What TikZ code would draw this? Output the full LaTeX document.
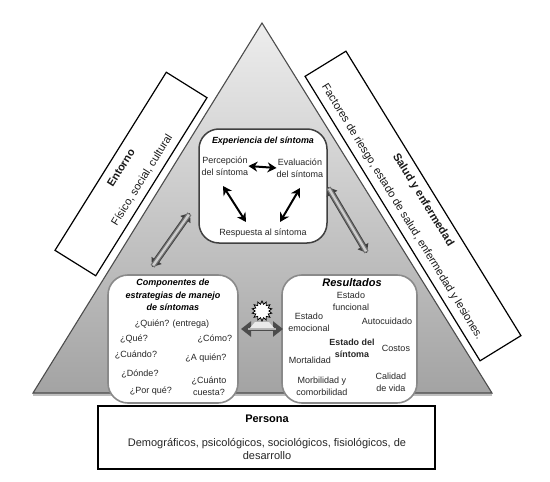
\documentclass[tikz,border=0pt]{standalone}
\usepackage{fontspec}
\setmainfont{Liberation Sans}
\usetikzlibrary{arrows.meta,shapes.geometric,shadows}
\definecolor{edgegray}{HTML}{8A8A8A}
\tikzset{
  x=1pt,y=-1pt,
  txt/.style={inner sep=0pt,align=center,text=black!85,font=\fontsize{9}{12}\selectfont},
  ttl/.style={inner sep=0pt,align=center,font=\fontsize{9}{12.3}\selectfont\bfseries\itshape},
  roundbox/.style={draw=edgegray,line width=1.6pt,fill=white,rounded corners=20pt,inner sep=0pt},
  sidebox/.style={draw=black,line width=1.2pt,fill=white,inner sep=0pt,minimum height=48pt},
  sidetxt/.style={inner sep=0pt,align=center,text=black!90},
  blackarrow/.style={draw=black,line width=2pt,{Stealth[length=9pt,width=10pt]}-{Stealth[length=9pt,width=10pt]}},
  tube/.style={draw=black!75,line width=6.6pt,{Triangle[length=8pt,width=12pt]}-{Triangle[length=8pt,width=12pt]},
    postaction={draw=black!55,line width=4.8pt,arrows=-,shorten <=1pt,shorten >=1pt},
    postaction={draw=black!20,line width=2.4pt,arrows=-,shorten <=2pt,shorten >=2pt}},
}
\begin{document}
\begin{tikzpicture}
\useasboundingbox (0,0) rectangle (550,482);
% triangle
\coordinate (apex) at (262,23);
\coordinate (bl) at (33,393);
\coordinate (br) at (492,393);
\fill[black!25] (33,396) -- (492,396) -- (492,393) -- (33,393) -- cycle;
\begin{scope}
\clip (apex) -- (br) -- (bl) -- cycle;
\shade[top color=black!7,bottom color=black!36] (33,23) rectangle (492,393);
\end{scope}
\draw[black!70,line width=1.1pt,line join=miter] (apex) -- (br) -- (bl) -- cycle;
% side boxes
\node[sidebox,rotate=58,minimum width=210pt] (entorno) at (131,174) {};
\node[sidetxt,rotate=58,font=\fontsize{11}{13}\selectfont\bfseries] (entornoT) at (121,168) {Entorno};
\node[sidetxt,rotate=58,font=\fontsize{11}{12}\selectfont] (entornoS) at (142,180) {Físico, social, cultural};
\node[sidebox,rotate=-58.4,minimum width=334pt] (salud) at (413,206) {};
\node[sidetxt,rotate=-58.4,font=\fontsize{11.2}{12}\selectfont\bfseries] (saludT) at (423,200) {Salud y enfermedad};
\node[sidetxt,rotate=-58.4,font=\fontsize{11.1}{12}\selectfont] (saludS) at (402,212) {Factores de riesgo, estado de salud, enfermedad y lesiones.};
% main boxes
\node[roundbox,draw=black!75,line width=1.5pt,minimum width=128pt,minimum height=114pt] (exp) at (263,186) {};
\node[roundbox,minimum width=130pt,minimum height=128pt] (comp) at (173,339) {};
\node[roundbox,minimum width=135pt,minimum height=128pt] (res) at (349.5,339) {};
% persona
\node[draw=black,line width=1.8pt,fill=white,minimum width=337pt,minimum height=63pt,inner sep=0pt] (persona) at (266.5,437.5) {};
\node[inner sep=0pt,font=\fontsize{11}{13}\selectfont\bfseries] (personaT) at (267,419) {Persona};
\node[inner sep=0pt,align=center,text=black!85,font=\fontsize{11}{13}\selectfont] (personaS) at (267,449.5) {Demográficos, psicológicos, sociológicos, fisiológicos, de\\desarrollo};
% experiencia
\node[ttl,font=\fontsize{8.9}{11}\selectfont\bfseries\itshape] (expT) at (263,141) {Experiencia del síntoma};
\node[txt] (perc) at (225,166) {Percepción\\del síntoma};
\node[txt] (eval) at (300,168) {Evaluación\\del síntoma};
\node[txt] (resp) at (263,233) {Respuesta al síntoma};
\coordinate (pd) at (223,186);
\coordinate (rl) at (246,222);
\coordinate (ed) at (300,188);
\coordinate (rr) at (280,222);
\draw[blackarrow] (perc.east) -- (eval.west);
\draw[blackarrow] (pd) -- (rl);
\draw[blackarrow] (ed) -- (rr);
% tubes
\coordinate (ta) at (152,267);
\coordinate (tb) at (190,213);
\coordinate (tc) at (328,187);
\coordinate (td) at (367,253);
\draw[tube] (ta) -- (tb);
\draw[tube] (tc) -- (td);
% componentes
\node[ttl] (compT) at (173,295) {Componentes de\\estrategias de manejo\\de síntomas};
\node[txt] (q1) at (172,324) {¿Quién? (entrega)};
\node[txt] (q2) at (134,339) {¿Qué?};
\node[txt] (q3) at (215,339) {¿Cómo?};
\node[txt] (q4) at (136,355) {¿Cuándo?};
\node[txt] (q5) at (206,358) {¿A quién?};
\node[txt] (q6) at (140,374) {¿Dónde?};
\node[txt] (q7) at (209,386) {¿Cuánto\\cuesta?};
\node[txt] (q8) at (151,391) {¿Por qué?};
% resultados
\node[ttl,font=\fontsize{11}{13}\selectfont\bfseries\itshape] (resT) at (352,283) {Resultados};
\node[txt] (r1) at (351,301) {Estado\\funcional};
\node[txt] (r2) at (309,322) {Estado\\emocional};
\node[txt] (r3) at (387,321) {Autocuidado};
\node[txt,font=\fontsize{8.9}{12}\selectfont\bfseries] (r4) at (352,348) {Estado del\\síntoma};
\node[txt] (r5) at (396,348) {Costos};
\node[txt] (r6) at (310,360) {Mortalidad};
\node[txt] (r7) at (322,386.5) {Morbilidad y\\comorbilidad};
\node[txt] (r8) at (391,382.5) {Calidad\\de vida};
% centre arrow
\coordinate (ca) at (241,329);
\coordinate (cb) at (283,329);
\draw[draw=black!70,line width=4pt,{Triangle[length=10pt,width=15pt]}-{Triangle[length=10pt,width=15pt]},
  postaction={draw=black!30,line width=2pt,arrows=-,shorten <=7pt,shorten >=7pt}] (ca) -- (cb);
\fill[black!8] (250,328) -- (255,322) -- (269,322) -- (274,328) -- cycle;
\node[star,star points=14,star point ratio=1.45,draw=black,line width=0.8pt,fill=white,minimum size=20pt,inner sep=0pt] (burst) at (262,311) {};
\end{tikzpicture}
\end{document}
